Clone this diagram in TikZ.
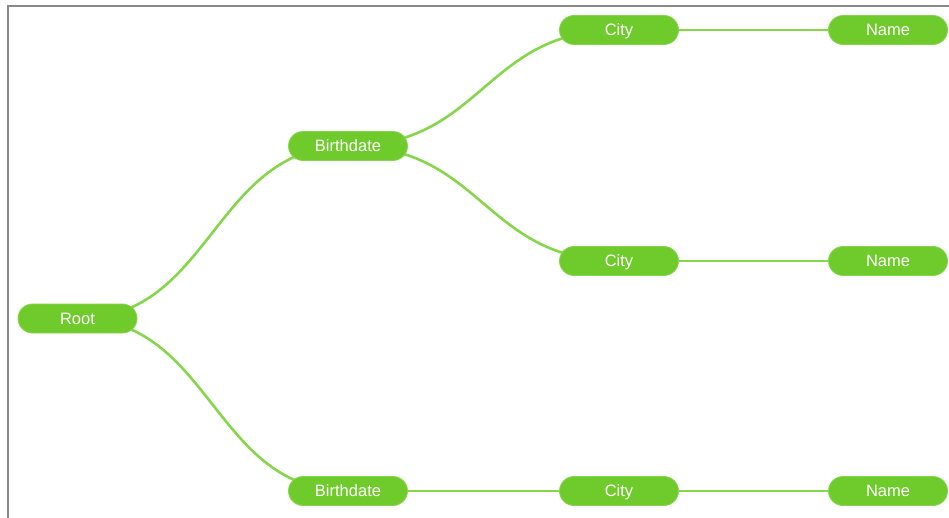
\documentclass[tikz,border=0pt]{standalone}
\usepackage{fontspec}
\setmainfont{Liberation Sans}
\usetikzlibrary{backgrounds}
\definecolor{nodegreen}{HTML}{6FCB2B}
\definecolor{linkgreen}{HTML}{86D64C}
\definecolor{framegray}{HTML}{888888}
\begin{document}
\begin{tikzpicture}[x=1pt,y=-1pt,
  item/.style={fill=nodegreen, draw=linkgreen, line width=0.8pt,
    rounded corners=14.5pt, minimum width=119pt, minimum height=29pt,
    inner sep=0pt, text=white, text height=11.8pt, text depth=0pt,
    font=\fontsize{16.5}{18}\selectfont},
  link/.style={draw=linkgreen, line width=2.6pt},
  curve/.style={link}]
  \useasboundingbox (0,0) rectangle (949,518);
  % frame along the left and top edges
  \draw[framegray, line width=2pt] (7.5,518) -- (7.5,6) -- (949,6);

  % tree nodes
  \node[item] (root) at (77.5,318.5) {Root};
  \node[item] (b1) at (348,146) {Birthdate};
  \node[item] (b2) at (348,491) {Birthdate};
  \node[item] (c1) at (619,30) {City};
  \node[item] (c2) at (619,261) {City};
  \node[item] (c3) at (619,491) {City};
  \node[item] (n1) at (888,30) {Name};
  \node[item] (n2) at (888,261) {Name};
  \node[item] (n3) at (888,491) {Name};

  % connectors behind the nodes
  \begin{pgfonlayer}{background}
    \draw[curve] (root.center) .. controls +(135,0) and +(-135,0) .. (b1.center);
    \draw[curve] (root.center) .. controls +(135,0) and +(-135,0) .. (b2.center);
    \draw[curve] (b1.center) .. controls +(135,0) and +(-135,0) .. (c1.center);
    \draw[curve] (b1.center) .. controls +(135,0) and +(-135,0) .. (c2.center);
    \draw[link] (b2.center) -- (c3.center);
    \draw[link] (c1.center) -- (n1.center);
    \draw[link] (c2.center) -- (n2.center);
    \draw[link] (c3.center) -- (n3.center);
  \end{pgfonlayer}
\end{tikzpicture}
\end{document}
